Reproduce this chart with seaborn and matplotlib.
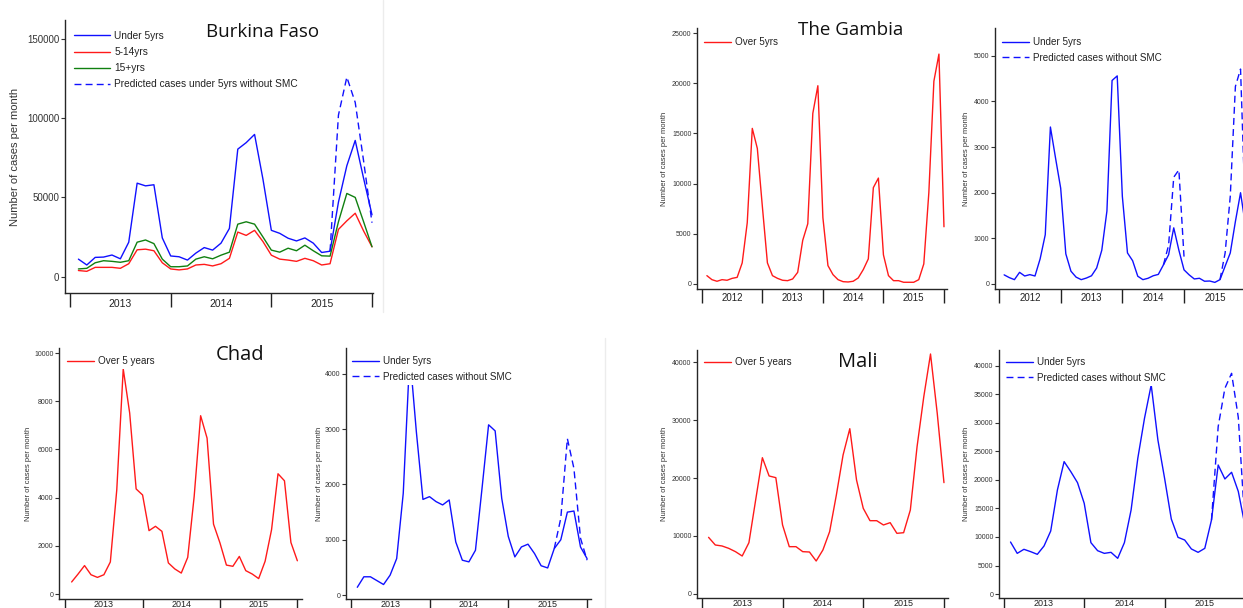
"""
Monthly malaria cases by age group, with predicted cases without SMC.
Burkina Faso, The Gambia, Chad and Mali.
"""
import numpy as np
import pandas as pd
import matplotlib
matplotlib.use('Agg')
import matplotlib.pyplot as plt
import seaborn as sns

# ---- data (cases per month) ----
bf_years = [2013, 2014, 2015]
bf_under5 = [11000, 7300, 12100, 12300, 13600, 11200, 21700, 59000, 57300, 58000, 24400, 13000,
             12500, 10400, 14800, 18300, 16700, 21100, 30400, 80500, 84600, 89800, 61500, 29200,
             27300, 24200, 22500, 24400, 21100, 15200, 16000, 47000, 70000, 86000, 62000, 39000]
bf_5to14 = [3800, 3300, 5800, 5800, 5800, 5200, 8100, 16900, 17300, 16300, 8700, 4800,
            4200, 4800, 7300, 7700, 6700, 8100, 11500, 28100, 26000, 29200, 22100, 13500,
            11000, 10400, 9600, 11500, 10000, 7300, 8100, 29800, 35200, 40000, 28800, 18800]
bf_15plus = [4800, 5200, 8700, 10000, 9600, 9000, 10000, 21700, 23100, 20800, 11000, 6200,
             6200, 6700, 11000, 12500, 11200, 13500, 15400, 33100, 34600, 33100, 25000, 16700,
             15400, 17900, 16300, 19800, 16300, 13100, 12900, 34600, 52500, 50000, 34600, 18800]
bf_pred = [16000, 102000, 126000, 110000, 73000, 34000]          # Jul-Dec 2015

gm_years = [2012, 2013, 2014, 2015]
gm_over5 = [830, 430, 270, 430, 370, 560, 660, 2100, 6100, 15500, 13500, 7700,
            2100, 830, 560, 370, 330, 500, 1160, 4350, 6000, 17000, 19750, 6600,
            1830, 930, 430, 230, 200, 270, 600, 1430, 2500, 9600, 10550, 2900,
            830, 330, 330, 170, 170, 170, 430, 2000, 9100, 20200, 22900, 5700]
gm_under5 = [200, 140, 95, 255, 175, 205, 175, 550, 1080, 3440, 2760, 2100,
             660, 280, 150, 95, 130, 180, 350, 740, 1600, 4460, 4560, 1920,
             680, 510, 170, 95, 125, 180, 210, 420, 640, 1230, 740, 310,
             200, 110, 125, 60, 65, 35, 95, 390, 680, 1370, 2000, 1250]
gm_pred14 = [420, 850, 2340, 2500, 600]                           # Aug-Dec 2014
gm_pred15 = [95, 680, 1920, 4330, 4710, 1300]                     # Jul-Dec 2015

td_years = [2013, 2014, 2015]
td_over5 = [500, 830, 1180, 800, 690, 800, 1330, 4330, 9340, 7510, 4360, 4110,
            2630, 2810, 2600, 1290, 1040, 870, 1520, 4050, 7400, 6470, 2900, 2120,
            1200, 1150, 1560, 970, 830, 640, 1360, 2670, 4990, 4700, 2140, 1380]
td_under5 = [140, 330, 330, 260, 190, 360, 660, 1840, 4350, 2950, 1730, 1780,
             1690, 1630, 1720, 960, 630, 600, 810, 1930, 3080, 2970, 1750, 1060,
             690, 870, 920, 750, 530, 490, 840, 1000, 1500, 1520, 870, 660]
td_pred = [840, 1390, 2830, 2290, 1030, 630]                      # Jul-Dec 2015

ml_years = [2013, 2014, 2015]
ml_over5 = [9770, 8450, 8280, 7870, 7300, 6550, 8850, 16200, 23500, 20350, 20060, 11900,
            8160, 8160, 7300, 7240, 5690, 7590, 10750, 17070, 23970, 28500, 19650, 14770,
            12640, 12640, 11900, 12300, 10460, 10570, 14480, 25400, 34020, 41380, 31150, 19200]
ml_under5 = [9120, 7130, 7840, 7430, 6960, 8420, 11050, 18250, 23220, 21460, 19530, 15910,
             9010, 7600, 7130, 7310, 6260, 9010, 14740, 23800, 30820, 36670, 27020, 20290,
             13160, 9940, 9470, 7900, 7310, 8010, 12980, 22630, 20180, 21350, 18000, 12000]
ml_pred = [12980, 29360, 36080, 38710, 31000, 12000]              # Jul-Dec 2015

BLUE, RED, GREEN = '#1010ff', '#ff1a1a', '#108010'
W, H = 1243, 608
ARIAL = ['Liberation Sans', 'DejaVu Sans']

sns.set_style('ticks')
plt.rcParams['font.family'] = ARIAL
plt.rcParams['axes.linewidth'] = 1.0

fig = plt.figure(figsize=(W / 100, H / 100), dpi=100)


def series(start_year, values, first_month=1):
    """Month positions as decimal years (month m of year y sits at y + m/12)."""
    months = np.arange(first_month, first_month + len(values))
    return pd.DataFrame({'t': start_year + months / 12.0, 'cases': values})


def panel(rect, xlim, ylim, yticks, years, tick_fs, year_fs, year_pad):
    left, top, right, bottom = rect
    ax = fig.add_axes([left / W, 1 - bottom / H, (right - left) / W, (bottom - top) / H])
    ax.set_xlim(*xlim)
    ax.set_ylim(*ylim)
    sns.despine(ax=ax)
    ax.set_xticks([years[0] + i for i in range(len(years) + 1)])
    ax.set_xticklabels([])
    ax.set_xticks([y + 0.5 for y in years], minor=True)
    ax.set_xticklabels([str(y) for y in years], minor=True, fontsize=year_fs)
    ax.tick_params(axis='x', which='major', length=10, width=1.0, color='#222222')
    ax.tick_params(axis='x', which='minor', length=0, pad=year_pad, labelcolor='#222222')
    ax.set_yticks(yticks)
    ax.set_yticklabels([str(v) for v in yticks])
    ax.tick_params(axis='y', length=3, width=0.8, pad=1, labelsize=tick_fs,
                   labelcolor='#333333', color='#333333')
    ax._rect = rect
    return ax


def line(ax, df, color, label, dashed=False):
    sns.lineplot(data=df, x='t', y='cases', color=color, lw=1.0, ax=ax, label=label,
                 linestyle='--' if dashed else '-', dashes=False)
    if dashed:
        ax.lines[-1].set_dashes((5, 3))


def finish(ax, ylab_fs, ylab_x, leg_x, leg_y, fs, hlen, spacing):
    left, top, right, bottom = ax._rect
    ax.set_xlabel('')
    ax.set_ylabel('Number of cases per month', fontsize=ylab_fs, color='#333333')
    ax.yaxis.set_label_coords((ylab_x - left) / (right - left), 0.5)
    leg = ax.legend(loc='upper left', bbox_to_anchor=(leg_x / W, 1 - leg_y / H),
                    bbox_transform=fig.transFigure, frameon=True, facecolor='white',
                    edgecolor='none', framealpha=1, fontsize=fs, handlelength=hlen,
                    handletextpad=0.45, labelspacing=spacing, borderpad=0.3, borderaxespad=0)
    for t in leg.get_texts():
        t.set_color('#222222')


# ---- Burkina Faso ----
ax = panel((65, 20, 373, 293), (2012.95, 2016.01), (-10400, 162100),
           [0, 50000, 100000, 150000], bf_years, 7, 7.5, 4)
line(ax, series(2013, bf_under5), BLUE, 'Under 5yrs')
line(ax, series(2013, bf_5to14), RED, '5-14yrs')
line(ax, series(2013, bf_15plus), GREEN, '15+yrs')
line(ax, series(2015, bf_pred, 7), BLUE, 'Predicted cases under 5yrs without SMC', dashed=True)
finish(ax, 8, 20, 71, 28, 7.3, 3.5, 0.6)

# ---- The Gambia ----
ax = panel((697, 28, 947, 289), (2011.92, 2016.05), (-500, 25500),
           list(range(0, 25001, 5000)), gm_years, 5, 7, 3)
line(ax, series(2012, gm_over5), RED, 'Over 5yrs')
finish(ax, 5.5, 668, 701, 34, 7.1, 2.7, 0.6)

ax = panel((995, 28, 1250, 289), (2011.935, 2016.07), (-110, 5610),
           list(range(0, 5001, 1000)), gm_years, 5, 7, 3)
line(ax, series(2012, gm_under5), BLUE, 'Under 5yrs')
line(ax, series(2014, gm_pred14, 8), BLUE, 'Predicted cases without SMC', dashed=True)
line(ax, series(2015, gm_pred15, 7), BLUE, None, dashed=True)
finish(ax, 5.5, 970, 999, 34, 7.1, 2.7, 0.6)

# ---- Chad ----
ax = panel((59, 348, 302, 599), (2012.92, 2016.06), (-207, 10210),
           list(range(0, 10001, 2000)), td_years, 5, 6.5, 1)
line(ax, series(2013, td_over5), RED, 'Over 5 years')
finish(ax, 5.5, 32, 64, 353, 7.1, 2.7, 0.6)

ax = panel((346, 348, 591, 599), (2012.94, 2016.05), (-72, 4470),
           list(range(0, 4001, 1000)), td_years, 5, 6.5, 1)
line(ax, series(2013, td_under5), BLUE, 'Under 5yrs')
line(ax, series(2015, td_pred, 7), BLUE, 'Predicted cases without SMC', dashed=True)
finish(ax, 5.5, 323, 349, 353, 7.1, 2.7, 0.6)

# ---- Mali ----
ax = panel((697, 350, 948, 598), (2012.94, 2016.05), (-690, 42070),
           list(range(0, 40001, 10000)), ml_years, 5, 6.5, 1)
line(ax, series(2013, ml_over5), RED, 'Over 5 years')
finish(ax, 5.5, 668, 701, 354, 7.1, 2.7, 0.6)

ax = panel((999, 350, 1249, 598), (2012.94, 2016.05), (-700, 42800),
           list(range(0, 40001, 5000)), ml_years, 5, 6.5, 1)
line(ax, series(2013, ml_under5), BLUE, 'Under 5yrs')
line(ax, series(2015, ml_pred, 7), BLUE, 'Predicted cases without SMC', dashed=True)
finish(ax, 5.5, 970, 1003, 354, 7.1, 2.7, 0.6)

# ---- country titles ----
for name, x, y, fs in [('Burkina Faso', 263, 37, 13.5), ('The Gambia', 851, 35, 13.5),
                       ('Chad', 240, 360, 14.5), ('Mali', 858, 367, 14.5)]:
    fig.text(x / W, 1 - y / H, name, ha='center', va='baseline', fontsize=fs,
             family=['Open Sans', 'DejaVu Sans'], color='#111111')

# faint borders between the original image tiles
for x, y0, y1 in [(383, 0, 312), (605, 338, 608)]:
    fig.add_artist(plt.Line2D([x / W, x / W], [1 - y0 / H, 1 - y1 / H],
                              transform=fig.transFigure, color='#ececec', lw=1))

fig.savefig('out.png', dpi=100)
print('saved out.png')
